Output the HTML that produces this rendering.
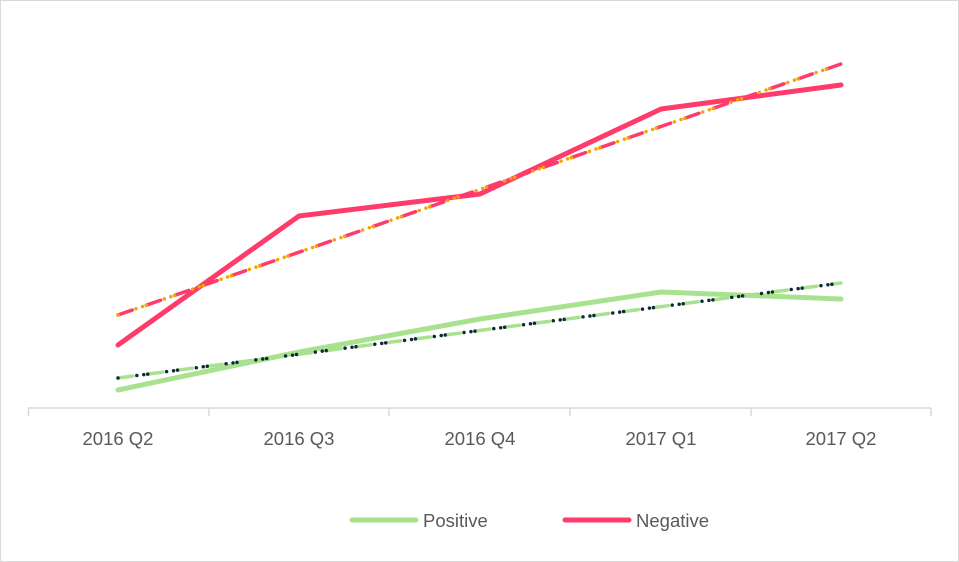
<!DOCTYPE html>
<html><head><style>
html,body{margin:0;padding:0;background:#fff;}
svg{display:block;}
text{font-family:"Liberation Sans",sans-serif;fill:#595959;}
</style></head><body>
<svg width="959" height="562" viewBox="0 0 959 562">
<rect x="0.5" y="0.5" width="958" height="561" fill="#fff" stroke="#d9d9d9"/>
<line x1="28" y1="408" x2="931" y2="408" stroke="#d9d9d9" stroke-width="1.5"/>
<g stroke="#d9d9d9" stroke-width="1.5">
<line x1="28.5" y1="408" x2="28.5" y2="416"/><line x1="209" y1="408" x2="209" y2="416"/>
<line x1="389" y1="408" x2="389" y2="416"/><line x1="570" y1="408" x2="570" y2="416"/>
<line x1="751" y1="408" x2="751" y2="416"/><line x1="931" y1="408" x2="931" y2="416"/>
</g>
<g font-size="18.5" text-anchor="middle">
<text x="118" y="445">2016 Q2</text><text x="299" y="445">2016 Q3</text>
<text x="480" y="445">2016 Q4</text><text x="661" y="445">2017 Q1</text>
<text x="841" y="445">2017 Q2</text>
</g>
<polyline points="118,390 299,352 480,319 661,292 841,299" fill="none" stroke="#a9e28f" stroke-width="5" stroke-linecap="round" stroke-linejoin="round"/>
<polyline points="118,345 299,216 480,194 661,109 841,85" fill="none" stroke="#ff3b6b" stroke-width="5" stroke-linecap="round" stroke-linejoin="round"/>
<line x1="118" y1="378" x2="841" y2="283" stroke="#a9e28f" stroke-width="3.5" stroke-dasharray="15 15" stroke-linecap="round"/>
<line x1="118" y1="378" x2="841" y2="283" stroke="#0d2a3a" stroke-width="3.5" stroke-dasharray="0 19 0 7 0 4" stroke-dashoffset="0" stroke-linecap="round"/>
<line x1="118" y1="315" x2="841" y2="64" stroke="#ff3b6b" stroke-width="3.5" stroke-dasharray="15 15" stroke-linecap="round"/>
<line x1="118" y1="315" x2="841" y2="64" stroke="#f5a300" stroke-width="3.5" stroke-dasharray="0 19 0 7 0 4" stroke-linecap="round"/>
<line x1="352" y1="520" x2="416" y2="520" stroke="#a9e28f" stroke-width="5" stroke-linecap="round"/>
<text x="423" y="527" font-size="18.5">Positive</text>
<line x1="565" y1="520" x2="629" y2="520" stroke="#ff3b6b" stroke-width="5" stroke-linecap="round"/>
<text x="636" y="527" font-size="18.5">Negative</text>
</svg>
</body></html>
